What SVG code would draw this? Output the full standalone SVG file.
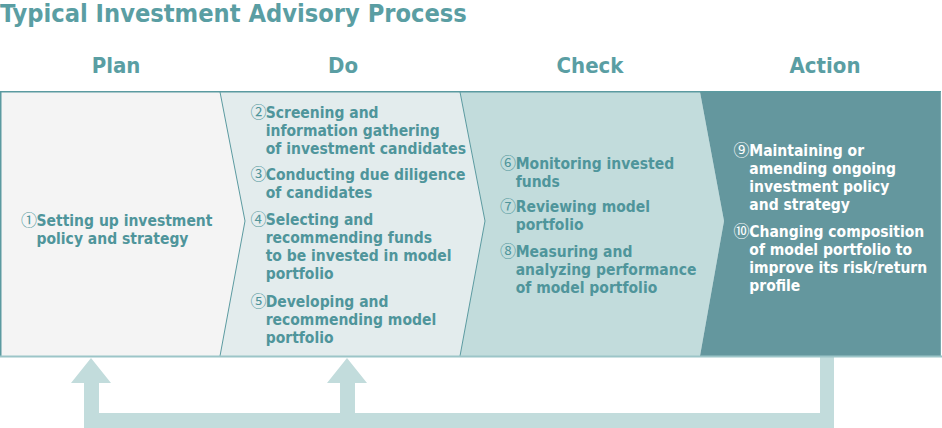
<svg xmlns="http://www.w3.org/2000/svg" width="942" height="428" viewBox="0 0 942 428">
<style>
.t{font-family:"DejaVu Sans Condensed","DejaVu Sans",sans-serif;font-weight:bold;font-size:15.5px;fill:#4f959b}
.w{fill:#ffffff}
.n{font-family:"Noto Sans CJK JP","DejaVu Sans",sans-serif;font-weight:normal;font-size:16px}
.h{font-family:"DejaVu Sans Condensed","DejaVu Sans",sans-serif;font-weight:bold;font-size:22px;fill:#5a9ea3;text-anchor:middle}
.title{font-family:"DejaVu Sans Condensed","DejaVu Sans",sans-serif;font-weight:bold;font-size:25.2px;fill:#5a9ea3}
.sep{fill:none;stroke:#5b9aa0;stroke-width:1}
.fb{fill:#c2dcdc}
</style>
<rect width="942" height="428" fill="#ffffff"/>
<g id="title"><text class="title" x="0" y="22">Typical Investment Advisory Process</text></g>
<g id="headers">
<text class="h" x="116" y="73">Plan</text>
<text class="h" x="343" y="73">Do</text>
<text class="h" x="590" y="73">Check</text>
<text class="h" x="825" y="73">Action</text>
</g>
<g id="connectors">
<path class="fb" d="M820,356 H834 V428 H84 V383 H71 L91,358 L111,383 H99 V413 H340 V383 H327 L347,358 L367,383 H355 V413 H820 Z"/>
</g>
<g id="plan">
<polygon points="0,92 220,92 245,221 220,356 0,356" fill="#f4f4f4"/>
<text class="t" y="226"><tspan class="n" x="21">①</tspan><tspan x="36.5">Setting up investment</tspan></text>
<text class="t" x="36.5" y="244">policy and strategy</text>
</g>
<g id="do">
<polygon points="220,92 460,92 485,221 460,356 220,356 245,221" fill="#e3eced"/>
<text class="t" y="118"><tspan class="n" x="250.5">②</tspan><tspan x="265.7">Screening and</tspan></text>
<text class="t" x="265.7" y="136">information gathering</text>
<text class="t" x="265.7" y="154">of investment candidates</text>
<text class="t" y="180"><tspan class="n" x="250.5">③</tspan><tspan x="265.7">Conducting due diligence</tspan></text>
<text class="t" x="265.7" y="198">of candidates</text>
<text class="t" y="225"><tspan class="n" x="250.5">④</tspan><tspan x="265.7">Selecting and</tspan></text>
<text class="t" x="265.7" y="243">recommending funds</text>
<text class="t" x="265.7" y="261">to be invested in model</text>
<text class="t" x="265.7" y="279">portfolio</text>
<text class="t" y="306.5"><tspan class="n" x="250.5">⑤</tspan><tspan x="265.7">Developing and</tspan></text>
<text class="t" x="265.7" y="324.5">recommending model</text>
<text class="t" x="265.7" y="342.5">portfolio</text>
</g>
<g id="check">
<polygon points="460,92 700,92 724,221 700,356 460,356 485,221" fill="#c2dcdc"/>
<text class="t" y="169"><tspan class="n" x="500">⑥</tspan><tspan x="515.7">Monitoring invested</tspan></text>
<text class="t" x="515.7" y="187">funds</text>
<text class="t" y="212"><tspan class="n" x="500">⑦</tspan><tspan x="515.7">Reviewing model</tspan></text>
<text class="t" x="515.7" y="230">portfolio</text>
<text class="t" y="256.5"><tspan class="n" x="500">⑧</tspan><tspan x="515.7">Measuring and</tspan></text>
<text class="t" x="515.7" y="274.5">analyzing performance</text>
<text class="t" x="515.7" y="292.5">of model portfolio</text>
</g>
<g id="action">
<polygon points="700,92 941,92 941,356 700,356 724,221" fill="#64979e"/>
<text class="t w" y="156"><tspan class="n" x="733.5">⑨</tspan><tspan x="749.3">Maintaining or</tspan></text>
<text class="t w" x="749.3" y="174">amending ongoing</text>
<text class="t w" x="749.3" y="192">investment policy</text>
<text class="t w" x="749.3" y="210">and strategy</text>
<text class="t w" y="237"><tspan class="n" x="733.5">⑩</tspan><tspan x="749.3">Changing composition</tspan></text>
<text class="t w" x="749.3" y="255">of model portfolio to</text>
<text class="t w" x="749.3" y="273">improve its risk/return</text>
<text class="t w" x="749.3" y="291">profile</text>
</g>
<g id="frame">
<path class="sep" d="M220,92 L245,221 L220,356 M460,92 L485,221 L460,356"/>
<path d="M0.75,356 V91.75 H941" fill="none" stroke="#5b9aa0" stroke-width="1.5"/>
<path d="M940.5,92 V356" fill="none" stroke="#7aa9ae" stroke-width="1"/>
<path d="M0,356.5 H942" fill="none" stroke="#9cc5c8" stroke-width="2"/>
</g>
</svg>
